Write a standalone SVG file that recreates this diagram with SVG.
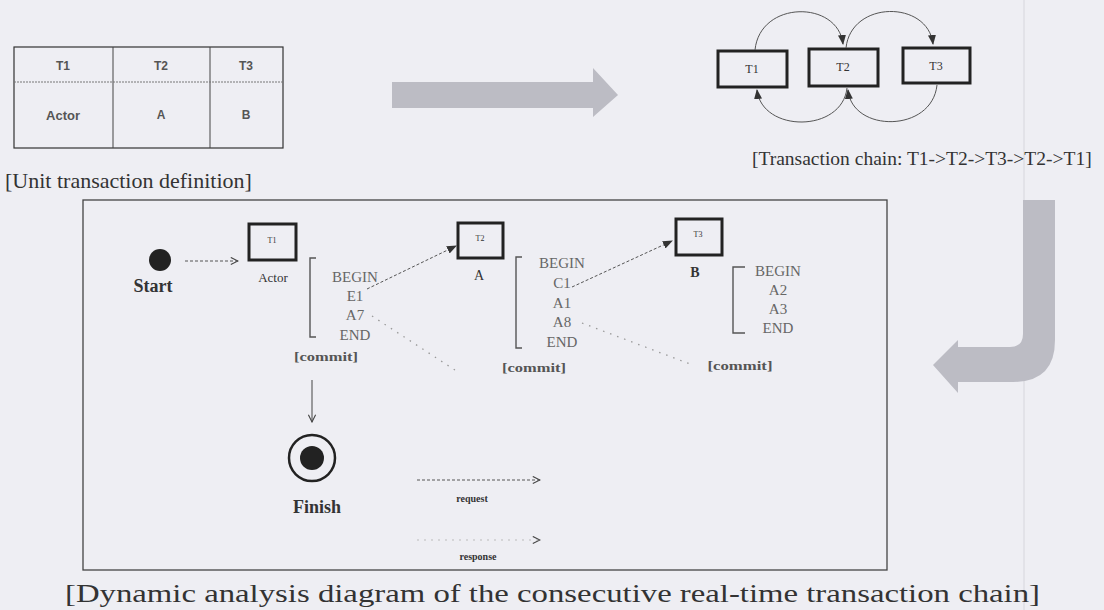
<svg xmlns="http://www.w3.org/2000/svg" width="1104" height="610" viewBox="0 0 1104 610">
<defs>
<style>
.bg{fill:#eeeef3}
.serif{font-family:"Liberation Serif","Times New Roman",serif;fill:#333}
.sans{font-family:"Liberation Sans",Arial,sans-serif;font-weight:bold;fill:#555}
.code{font-size:15px;fill:#666;text-anchor:middle}
.commit{font-size:12px;fill:#555;text-anchor:middle;font-weight:bold}
.box{fill:none;stroke:#222;stroke-width:3}
.thin{fill:none;stroke:#444;stroke-width:1}
.dash{fill:none;stroke:#555;stroke-width:1;stroke-dasharray:3 2}
.dot{fill:none;stroke:#999;stroke-width:1.3;stroke-dasharray:1.5 6}
.bracket{fill:none;stroke:#555;stroke-width:1.4}
.grayarrow{fill:#bcbcc4}
.arc{fill:none;stroke:#555;stroke-width:1}
</style>
<marker id="open" viewBox="0 0 10 10" refX="9" refY="5" markerWidth="9" markerHeight="9" orient="auto" markerUnits="userSpaceOnUse">
<path d="M1,1 L9,5 L1,9" fill="none" stroke="#444" stroke-width="1.2"/>
</marker>
<marker id="solid" viewBox="0 0 10 10" refX="9" refY="5" markerWidth="10" markerHeight="10" orient="auto" markerUnits="userSpaceOnUse">
<path d="M0,1 L10,5 L0,9 Z" fill="#333"/>
</marker>
</defs>
<rect class="bg" x="0" y="0" width="1104" height="610"/>
<line x1="1024" y1="0" x2="1024" y2="610" stroke="#d6d6dc" stroke-width="1"/>

<g id="unit-table">
<rect x="14" y="47" width="269" height="101" fill="none" stroke="#333" stroke-width="1.2"/>
<line x1="113" y1="47" x2="113" y2="148" stroke="#444" stroke-width="1"/>
<line x1="210" y1="47" x2="210" y2="148" stroke="#444" stroke-width="1"/>
<line x1="14" y1="82" x2="283" y2="82" stroke="#777" stroke-width="1" stroke-dasharray="2 1"/>
<text class="sans" x="63" y="70" font-size="12" text-anchor="middle">T1</text>
<text class="sans" x="161" y="70" font-size="12" text-anchor="middle">T2</text>
<text class="sans" x="246" y="70" font-size="12" text-anchor="middle">T3</text>
<text class="sans" x="63" y="120" font-size="13" text-anchor="middle">Actor</text>
<text class="sans" x="161" y="119" font-size="12" text-anchor="middle">A</text>
<text class="sans" x="246" y="119" font-size="12" text-anchor="middle">B</text>
<text class="serif" x="5" y="188" font-size="22">[Unit transaction definition]</text>
</g>

<g id="right-arrow">
<path class="grayarrow" d="M392,82 L593,82 L593,68 L618,95 L593,117 L593,108 L392,108 Z"/>
</g>

<g id="chain">
<g id="chain-T1"><rect class="box" x="718" y="51" width="69" height="36"/><text class="serif" x="752" y="73" font-size="12" text-anchor="middle">T1</text></g>
<g id="chain-T2"><rect class="box" x="809" y="49" width="69" height="37"/><text class="serif" x="843" y="71" font-size="12" text-anchor="middle">T2</text></g>
<g id="chain-T3"><rect class="box" x="903" y="48" width="67" height="35"/><text class="serif" x="936" y="70" font-size="12" text-anchor="middle">T3</text></g>
<text class="serif" x="752" y="165" font-size="19.5">[Transaction chain: T1-&gt;T2-&gt;T3-&gt;T2-&gt;T1]</text>
</g>

<g id="j-arrow">
<path class="grayarrow" d="M1023,200 L1055,200 L1055,340 Q1055,382 1013,382 L958,382 L958,393 L933,365 L958,340 L958,347 L1010,347 Q1023,347 1023,334 Z"/>
</g>

<g id="dynamic-frame">
<rect x="83" y="200" width="804" height="370" fill="none" stroke="#444" stroke-width="1.3"/>
<text class="serif" x="65" y="602" font-size="25" textLength="975" lengthAdjust="spacingAndGlyphs">[Dynamic analysis diagram of the consecutive real-time  transaction chain]</text>
</g>

<g id="start">
<circle cx="160" cy="260" r="11" fill="#222"/>
<text class="serif" x="153" y="292" font-size="18" font-weight="bold" text-anchor="middle">Start</text>
</g>

<g id="T1">
<rect class="box" x="249" y="224" width="47" height="36"/>
<text class="serif" x="272" y="243" font-size="8" text-anchor="middle">T1</text>
<text class="serif" x="273" y="282" font-size="13" text-anchor="middle">Actor</text>
<path class="bracket" d="M316,258 L310,258 L310,337 L316,337"/>
<text class="serif code" x="355" y="282">BEGIN</text>
<text class="serif code" x="355" y="301">E1</text>
<text class="serif code" x="355" y="320">A7</text>
<text class="serif code" x="355" y="340">END</text>
<text class="serif commit" x="326" y="361" textLength="64" lengthAdjust="spacingAndGlyphs">[commit]</text>
</g>

<g id="T2">
<rect class="box" x="458" y="223" width="45" height="35"/>
<text class="serif" x="480" y="241" font-size="8" text-anchor="middle">T2</text>
<text class="serif" x="479" y="280" font-size="14" text-anchor="middle">A</text>
<path class="bracket" d="M522,257 L516,257 L516,348 L522,348"/>
<text class="serif code" x="562" y="268">BEGIN</text>
<text class="serif code" x="562" y="288">C1</text>
<text class="serif code" x="562" y="308">A1</text>
<text class="serif code" x="562" y="327">A8</text>
<text class="serif code" x="562" y="347">END</text>
<text class="serif commit" x="534" y="372" textLength="64" lengthAdjust="spacingAndGlyphs">[commit]</text>
</g>

<g id="T3">
<rect class="box" x="676" y="219" width="46" height="36"/>
<text class="serif" x="698" y="237" font-size="8" text-anchor="middle">T3</text>
<text class="serif" x="695" y="277" font-size="14" font-weight="bold" text-anchor="middle">B</text>
<path class="bracket" d="M745,267 L733,267 L733,333 L745,333"/>
<text class="serif code" x="778" y="276">BEGIN</text>
<text class="serif code" x="778" y="295">A2</text>
<text class="serif code" x="778" y="314">A3</text>
<text class="serif code" x="778" y="333">END</text>
<text class="serif commit" x="740" y="370" textLength="65" lengthAdjust="spacingAndGlyphs">[commit]</text>
</g>

<g id="finish">
<circle cx="312" cy="458" r="23" fill="none" stroke="#222" stroke-width="2.5"/>
<circle cx="312" cy="458" r="12" fill="#222"/>
<text class="serif" x="317" y="513" font-size="18" font-weight="bold" text-anchor="middle">Finish</text>
</g>

<g id="legend">
<text class="serif" x="472" y="502" font-size="10" font-weight="bold" text-anchor="middle" fill="#444">request</text>
<text class="serif" x="478" y="560" font-size="10" font-weight="bold" text-anchor="middle" fill="#444">response</text>
</g>

<g id="connectors">
<path class="arc" d="M755,50 C760,0 838,0 843,44" marker-end="url(#solid)"/>
<path class="arc" d="M846,48 C851,0 928,0 933,44" marker-end="url(#solid)"/>
<path class="arc" d="M847,88 C842,133 762,133 757,90" marker-end="url(#solid)"/>
<path class="arc" d="M937,85 C932,133 852,133 848,90" marker-end="url(#solid)"/>
<line class="dash" x1="185" y1="261" x2="238" y2="261" marker-end="url(#open)"/>
<line class="dash" x1="367" y1="289" x2="456" y2="246" marker-end="url(#solid)"/>
<line class="dash" x1="572" y1="287" x2="672" y2="241" marker-end="url(#solid)"/>
<line class="dot" x1="372" y1="316" x2="458" y2="372"/>
<line class="dot" x1="582" y1="323" x2="690" y2="364"/>
<line class="thin" x1="312" y1="380" x2="312" y2="422" marker-end="url(#open)"/>
<line class="dash" x1="417" y1="480" x2="540" y2="480" marker-end="url(#open)"/>
<line x1="417" y1="540" x2="540" y2="540" stroke="#bbb" stroke-width="1" stroke-dasharray="2 5" marker-end="url(#open)"/>
</g>
</svg>
